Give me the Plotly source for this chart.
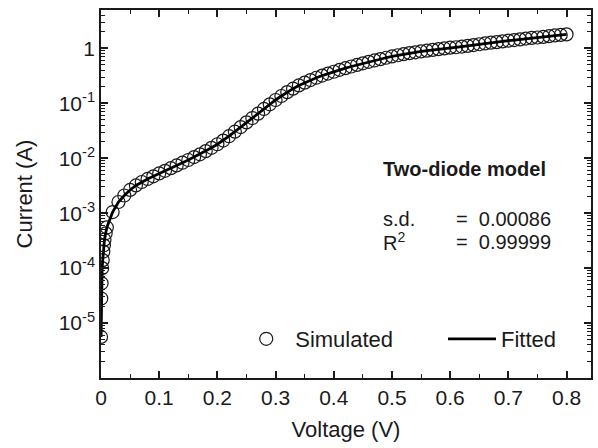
import plotly.graph_objects as go

# ---- data ----
voltage = [0.0001, 0.0005, 0.001, 0.002, 0.003, 0.004, 0.005, 0.006, 0.008,
           0.01, 0.02, 0.03, 0.04, 0.05, 0.06, 0.07, 0.08, 0.09, 0.10,
           0.11, 0.12, 0.13, 0.14, 0.15, 0.16, 0.17, 0.18, 0.19, 0.20,
           0.21, 0.22, 0.23, 0.24, 0.25, 0.26, 0.27, 0.28, 0.29, 0.30,
           0.31, 0.32, 0.33, 0.34, 0.35, 0.36, 0.37, 0.38, 0.39, 0.40,
           0.41, 0.42, 0.43, 0.44, 0.45, 0.46, 0.47, 0.48, 0.49, 0.50,
           0.51, 0.52, 0.53, 0.54, 0.55, 0.56, 0.57, 0.58, 0.59, 0.60,
           0.61, 0.62, 0.63, 0.64, 0.65, 0.66, 0.67, 0.68, 0.69, 0.70,
           0.71, 0.72, 0.73, 0.74, 0.75, 0.76, 0.77, 0.78, 0.79, 0.80]

simulated_current = [5.6e-6, 2.8e-5, 5.3e-5, 1.0e-4, 1.4e-4, 2.0e-4, 2.6e-4, 3.3e-4, 4.3e-4,
                     5.5e-4, 1.05e-3, 1.6e-3, 2.1e-3, 2.65e-3, 3.2e-3, 3.7e-3, 4.2e-3, 4.7e-3, 5.3e-3,
                     5.9e-3, 6.6e-3, 7.4e-3, 8.3e-3, 9.3e-3, 0.0105, 0.0118, 0.0135, 0.0155, 0.018,
                     0.021, 0.0252, 0.0305, 0.037, 0.045, 0.054, 0.065, 0.079, 0.096, 0.115,
                     0.136, 0.16, 0.185, 0.212, 0.238, 0.265, 0.292, 0.32, 0.348, 0.376,
                     0.407, 0.436, 0.468, 0.50, 0.535, 0.569, 0.603, 0.638, 0.676, 0.714,
                     0.75, 0.785, 0.82, 0.85, 0.88, 0.91, 0.94, 0.97, 1.00, 1.03,
                     1.05, 1.08, 1.11, 1.15, 1.19, 1.23, 1.27, 1.30, 1.34, 1.38,
                     1.42, 1.46, 1.51, 1.55, 1.58, 1.62, 1.67, 1.72, 1.76, 1.80]

fitted_current = list(simulated_current)

y_tick_values = [1e-5, 1e-4, 1e-3, 1e-2, 1e-1, 1]
y_tick_labels = ["10<sup>-5</sup>", "10<sup>-4</sup>", "10<sup>-3</sup>",
                 "10<sup>-2</sup>", "10<sup>-1</sup>", "1"]
x_tick_values = [0, 0.1, 0.2, 0.3, 0.4, 0.5, 0.6, 0.7, 0.8]
x_tick_labels = ["0", "0.1", "0.2", "0.3", "0.4", "0.5", "0.6", "0.7", "0.8"]

y_minor = [m * 10.0 ** k for k in range(-6, 1) for m in range(2, 10)]
x_minor = [0.05, 0.15, 0.25, 0.35, 0.45, 0.55, 0.65, 0.75]

FONT = "Liberation Sans, Arial, sans-serif"
INK = "#1a1a1a"

fig = go.Figure()
fig.add_trace(go.Scatter(
    x=voltage, y=simulated_current, mode="markers", name="Simulated",
    marker=dict(symbol="circle-open", size=13, color=INK, line=dict(width=1.2, color=INK)),
    legend="legend",
))
fig.add_trace(go.Scatter(
    x=voltage, y=fitted_current, mode="lines", name="Fitted",
    line=dict(color="black", width=2.8),
    legend="legend2",
))

axis_common = dict(
    showline=True, linecolor=INK, linewidth=1.5, mirror="ticks",
    ticks="inside", ticklen=7, tickwidth=1.5, tickcolor=INK,
    showgrid=False, zeroline=False,
    tickfont=dict(family=FONT, size=21, color=INK),
)

fig.update_xaxes(
    range=[0, 0.842], tickmode="array", tickvals=x_tick_values, ticktext=x_tick_labels,
    minor=dict(tickvals=x_minor, ticks="inside", ticklen=4, tickwidth=1.2, tickcolor=INK),
    title=dict(text="Voltage (V)", font=dict(family=FONT, size=22, color=INK), standoff=14),
    **axis_common,
)
fig.update_yaxes(
    type="log", range=[-6, 0.699], tickmode="array", tickvals=y_tick_values, ticktext=y_tick_labels,
    minor=dict(tickvals=y_minor, ticks="inside", ticklen=4, tickwidth=1.0, tickcolor=INK),
    title=dict(text="Current (A)", font=dict(family=FONT, size=22, color=INK), standoff=20),
    **axis_common,
)

annot_font = dict(family=FONT, size=20, color=INK)
annotations = [
    dict(text="<b>Two-diode model</b>", x=0.571, y=0.568, xref="paper", yref="paper",
         xanchor="left", yanchor="middle", showarrow=False, font=annot_font),
    dict(text="s.d.", x=0.571, y=0.432, xref="paper", yref="paper",
         xanchor="left", yanchor="middle", showarrow=False, font=annot_font),
    dict(text="=  0.00086", x=0.72, y=0.432, xref="paper", yref="paper",
         xanchor="left", yanchor="middle", showarrow=False, font=annot_font),
    dict(text="R<sup>2</sup>", x=0.571, y=0.37, xref="paper", yref="paper",
         xanchor="left", yanchor="middle", showarrow=False, font=annot_font),
    dict(text="=  0.99999", x=0.72, y=0.37, xref="paper", yref="paper",
         xanchor="left", yanchor="middle", showarrow=False, font=annot_font),
]

legend_common = dict(
    orientation="h", bgcolor="rgba(0,0,0,0)", borderwidth=0,
    font=dict(family=FONT, size=22, color=INK), itemwidth=48,
    yanchor="middle", xanchor="left",
)

fig.update_layout(
    width=598, height=448,
    margin=dict(l=101, r=5, t=9.5, b=70),
    paper_bgcolor="white", plot_bgcolor="white",
    font=dict(family=FONT, color=INK),
    annotations=annotations,
    showlegend=True,
    legend=dict(x=0.278, y=0.106, **legend_common),
    legend2=dict(x=0.698, y=0.106, **legend_common),
)

fig.write_html("out.html")
